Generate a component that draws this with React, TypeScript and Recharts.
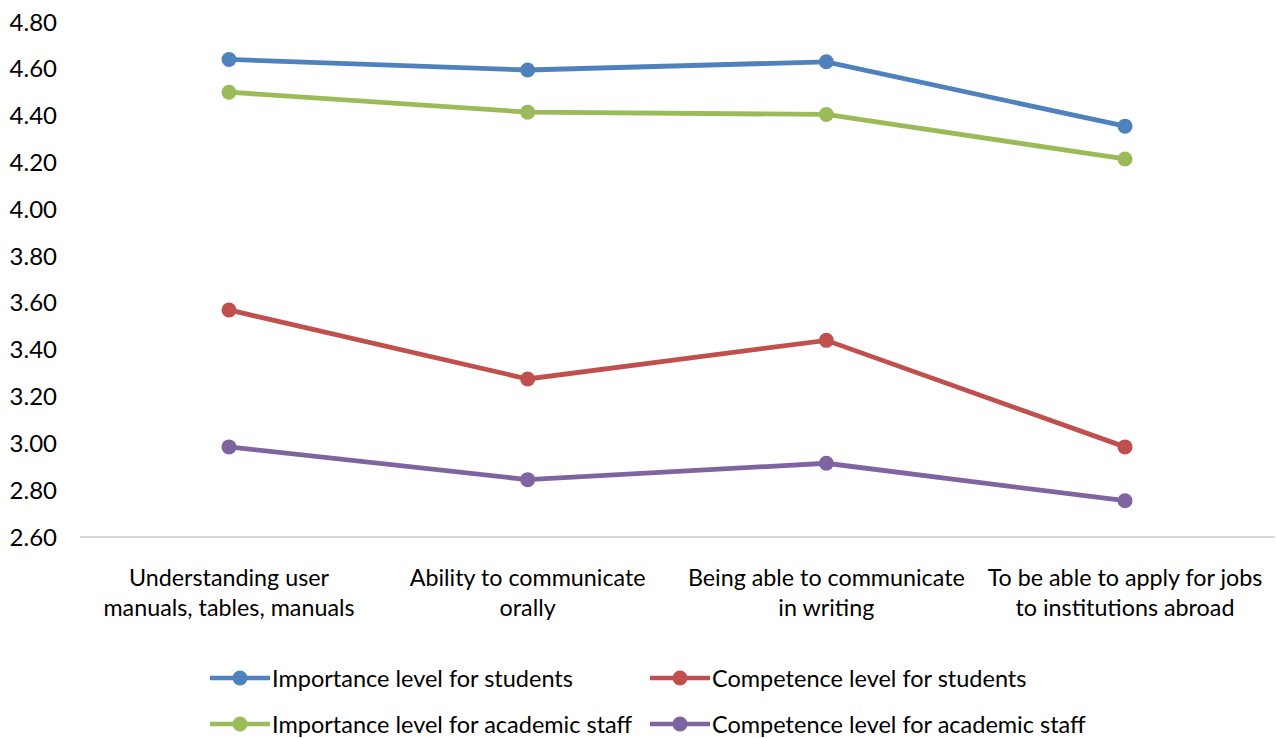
import React from "react";
import { LineChart, Line, XAxis, YAxis, Legend } from "recharts";

const categories = [
  "Understanding user manuals, tables, manuals",
  "Ability to communicate orally",
  "Being able to communicate in writing",
  "To be able to apply for jobs to institutions abroad",
];
const categoryLines: string[][] = [
  ["Understanding user", "manuals, tables, manuals"],
  ["Ability to communicate", "orally"],
  ["Being able to communicate", "in writing"],
  ["To be able to apply for jobs", "to institutions abroad"],
];

const importanceStudents = [4.64, 4.595, 4.63, 4.355];
const competenceStudents = [3.57, 3.275, 3.44, 2.985];
const importanceStaff = [4.5, 4.415, 4.405, 4.215];
const competenceStaff = [2.985, 2.845, 2.915, 2.755];

const yTicks = [2.6, 2.8, 3.0, 3.2, 3.4, 3.6, 3.8, 4.0, 4.2, 4.4, 4.6, 4.8];

const series = [
  { key: "impStu", name: "Importance level for students", color: "#4F81BD", values: importanceStudents },
  { key: "compStu", name: "Competence level for students", color: "#C0504D", values: competenceStudents },
  { key: "impStaff", name: "Importance level for academic staff", color: "#9BBB59", values: importanceStaff },
  { key: "compStaff", name: "Competence level for academic staff", color: "#8064A2", values: competenceStaff },
];

const data = categories.map((c, i) => {
  const row: Record<string, string | number> = { category: c };
  series.forEach((s) => {
    row[s.key] = s.values[i];
  });
  return row;
});

const FONT = "Lato, 'Open Sans', sans-serif";

const CategoryTick = (props: any) => {
  const { x, y, payload } = props;
  const idx = categories.indexOf(payload.value);
  const lines = idx >= 0 ? categoryLines[idx] : [String(payload.value)];
  return (
    <text x={x} y={y} textAnchor="middle" fill="#000" fontSize={23.3} fontFamily={FONT}>
      {lines.map((l, i) => (
        <tspan key={i} x={x} dy={i === 0 ? 41 : 30}>
          {l}
        </tspan>
      ))}
    </text>
  );
};

const LegendContent = () => (
  <div
    style={{
      display: "grid",
      gridTemplateColumns: "440px 440px",
      rowGap: 22,
      paddingLeft: 210,
      fontFamily: FONT,
      fontSize: 23.5,
      color: "#000",
      transform: "translateY(8px)",
    }}
  >
    {series.map((s) => (
      <div key={s.key} style={{ display: "flex", alignItems: "center", height: 24 }}>
        <svg width={60} height={20} style={{ marginRight: 2 }}>
          <line x1={0} y1={10} x2={60} y2={10} stroke={s.color} strokeWidth={4.5} />
          <circle cx={30} cy={10} r={7.5} fill={s.color} />
        </svg>
        <span>{s.name}</span>
      </div>
    ))}
  </div>
);

export default function App() {
  return (
    <div style={{ position: "absolute", left: 0, top: 0, background: "#fff" }}>
      <LineChart
        width={1276}
        height={738}
        data={data}
        margin={{ top: 22, right: 1, bottom: 0, left: 0 }}
        style={{ fontFamily: FONT }}
      >
        <XAxis
          dataKey="category"
          axisLine={{ stroke: "#D9D9D9", strokeWidth: 2 }}
          tickLine={false}
          tick={<CategoryTick />}
          interval={0}
          height={103}
          padding={{ left: 149, right: 150 }}
        />
        <YAxis
          domain={[2.6, 4.8]}
          ticks={yTicks}
          axisLine={false}
          tickLine={false}
          width={80}
          tickMargin={17}
          tick={{ fill: "#000", fontSize: 24, fontFamily: FONT }}
          tickFormatter={(v: number) => v.toFixed(2)}
          interval={0}
        />
        {series.map((s) => (
          <Line
            key={s.key}
            dataKey={s.key}
            name={s.name}
            stroke={s.color}
            strokeWidth={4.8}
            dot={{ r: 7.5, fill: s.color, stroke: s.color, strokeWidth: 0 }}
            activeDot={false}
            isAnimationActive={false}
          />
        ))}
        <Legend verticalAlign="bottom" height={80} content={<LegendContent />} wrapperStyle={{ paddingTop: 18 }} />
      </LineChart>
    </div>
  );
}
